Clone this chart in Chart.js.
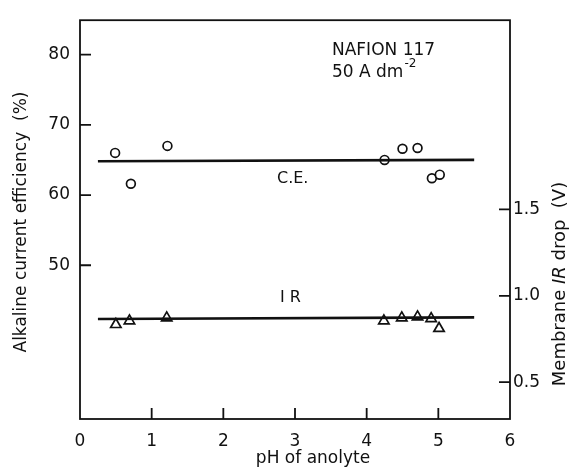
<!DOCTYPE html>
<html>

<head>
    <meta charset="utf-8">
    <title>NAFION 117</title>
    <style>
        body { margin: 0; background: #fff; }
    </style>
</head>

<body>
    <canvas id="myChart" width="570" height="468"></canvas>

    <script src="https://cdn.jsdelivr.net/npm/chart.js@4/dist/chart.umd.min.js"></script>
    <script type="text/javascript">
        var phCE = [0.49, 0.71, 1.22, 4.25, 4.50, 4.71, 4.91, 5.02];
        var efficiency = [66.0, 61.6, 67.0, 65.0, 66.6, 66.7, 62.4, 62.9];
        var phIR = [0.50, 0.69, 1.21, 4.24, 4.49, 4.71, 4.90, 5.01];
        var irDrop = [0.834, 0.855, 0.872, 0.855, 0.872, 0.878, 0.868, 0.811];
        // fitted straight lines (ends)
        var fitX = [0.25, 5.5];
        var fitCE = [64.8, 65.0];
        var fitIR = [0.866, 0.875];
        var leftTicks = [50, 60, 70, 80];
        var rightTicks = [0.5, 1.0, 1.5];
        var xTicks = [0, 1, 2, 3, 4, 5, 6];

        var FONT = "'DejaVu Sans', sans-serif";
        var INK = "#111";

        function pts(xs, ys) {
            return xs.map(function (x, i) { return { x: x, y: ys[i] }; });
        }

        // frame, inward ticks and free text
        var extras = {
            id: 'extras',
            afterDraw: function (chart) {
                var c = chart.ctx, a = chart.chartArea;
                var sx = chart.scales.x, sy = chart.scales.y, sy1 = chart.scales.y1;
                c.save();
                c.strokeStyle = INK;
                c.lineWidth = 1.8;
                c.strokeRect(a.left, a.top, a.right - a.left, a.bottom - a.top);
                c.beginPath();
                leftTicks.forEach(function (v) {
                    var y = sy.getPixelForValue(v);
                    c.moveTo(a.left, y); c.lineTo(a.left + 11, y);
                });
                rightTicks.forEach(function (v) {
                    var y = sy1.getPixelForValue(v);
                    c.moveTo(a.right, y); c.lineTo(a.right - 11, y);
                });
                [1, 2, 3, 4, 5].forEach(function (v) {
                    var x = sx.getPixelForValue(v);
                    c.moveTo(x, a.bottom); c.lineTo(x, a.bottom - 11);
                });
                c.stroke();

                c.fillStyle = INK;
                c.textBaseline = 'alphabetic';
                c.textAlign = 'left';
                c.font = '17px ' + FONT;
                c.fillText('NAFION 117', 332, 55);
                c.fillText('50 A dm', 332, 77);
                var w = c.measureText('50 A dm').width;
                c.font = '12px ' + FONT;
                c.fillText('-2', 332 + w + 1, 67);
                c.font = '16px ' + FONT;
                c.fillText('C.E.', 277, 183);
                c.fillText('I R', 280, 302);

                // axis titles
                c.font = '17px ' + FONT;
                c.textAlign = 'center';
                c.textBaseline = 'middle';
                c.fillText('pH of anolyte', 313, 459);

                c.save();
                c.translate(22, 222);
                c.rotate(-Math.PI / 2);
                c.fillText('Alkaline current efficiency  (%)', 0, 0);
                c.restore();

                c.save();
                c.translate(560, 284);
                c.rotate(-Math.PI / 2);
                var p1 = 'Membrane ', p2 = 'IR', p3 = ' drop  (V)';
                var f = '18px ' + FONT, fi = 'italic 18px ' + FONT;
                c.font = f;
                var w1 = c.measureText(p1).width, w3 = c.measureText(p3).width;
                c.font = fi;
                var w2 = c.measureText(p2).width;
                var x0 = -(w1 + w2 + w3) / 2;
                c.textAlign = 'left';
                c.font = f;
                c.fillText(p1, x0, 0);
                c.font = fi;
                c.fillText(p2, x0 + w1, 0);
                c.font = f;
                c.fillText(p3, x0 + w1 + w2, 0);
                c.restore();
                c.restore();
            }
        };

        var ctx = document.getElementById('myChart').getContext('2d');
        var chart = new Chart(ctx, {
            type: 'scatter',
            data: {
                datasets: [{
                    label: 'C.E. fit',
                    type: 'line',
                    data: pts(fitX, fitCE),
                    yAxisID: 'y',
                    borderColor: INK,
                    borderWidth: 2.6,
                    pointRadius: 0,
                    fill: false
                }, {
                    label: 'IR fit',
                    type: 'line',
                    data: pts(fitX, fitIR),
                    yAxisID: 'y1',
                    borderColor: INK,
                    borderWidth: 2.6,
                    pointRadius: 0,
                    fill: false
                }, {
                    label: 'C.E.',
                    data: pts(phCE, efficiency),
                    yAxisID: 'y',
                    pointStyle: 'circle',
                    pointRadius: 4.4,
                    pointBorderWidth: 1.7,
                    pointBackgroundColor: '#fff',
                    pointBorderColor: INK
                }, {
                    label: 'IR',
                    data: pts(phIR, irDrop),
                    yAxisID: 'y1',
                    pointStyle: 'triangle',
                    pointRadius: 6,
                    pointBorderWidth: 1.7,
                    pointBackgroundColor: '#fff',
                    pointBorderColor: INK
                }]
            },
            options: {
                responsive: false,
                animation: false,
                layout: { padding: { top: 15, left: 0, right: 0, bottom: 0 } },
                plugins: {
                    legend: { display: false },
                    tooltip: { enabled: false }
                },
                scales: {
                    x: {
                        type: 'linear',
                        min: 0,
                        max: 6,
                        afterBuildTicks: function (s) { s.ticks = xTicks.map(function (v) { return { value: v }; }); },
                        afterFit: function (s) { s.height = 49; },
                        grid: { display: false, drawTicks: false },
                        border: { display: false },
                        ticks: { padding: 12, color: INK, font: { family: FONT, size: 17 }, maxRotation: 0 }
                    },
                    y: {
                        position: 'left',
                        min: 28.1,
                        max: 84.9,
                        afterBuildTicks: function (s) { s.ticks = leftTicks.map(function (v) { return { value: v }; }); },
                        afterFit: function (s) { s.width = 80; },
                        grid: { display: false, drawTicks: false },
                        border: { display: false },
                        ticks: { padding: 10, color: INK, font: { family: FONT, size: 17 } }
                    },
                    y1: {
                        position: 'right',
                        min: 0.287,
                        max: 2.595,
                        afterBuildTicks: function (s) { s.ticks = rightTicks.map(function (v) { return { value: v }; }); },
                        afterFit: function (s) { s.width = 60; },
                        grid: { display: false, drawTicks: false },
                        border: { display: false },
                        ticks: {
                            padding: 3, color: INK, font: { family: FONT, size: 17 },
                            callback: function (v) { return v.toFixed(1); }
                        }
                    }
                }
            },
            plugins: [extras]
        });
    </script>
</body>

</html>
